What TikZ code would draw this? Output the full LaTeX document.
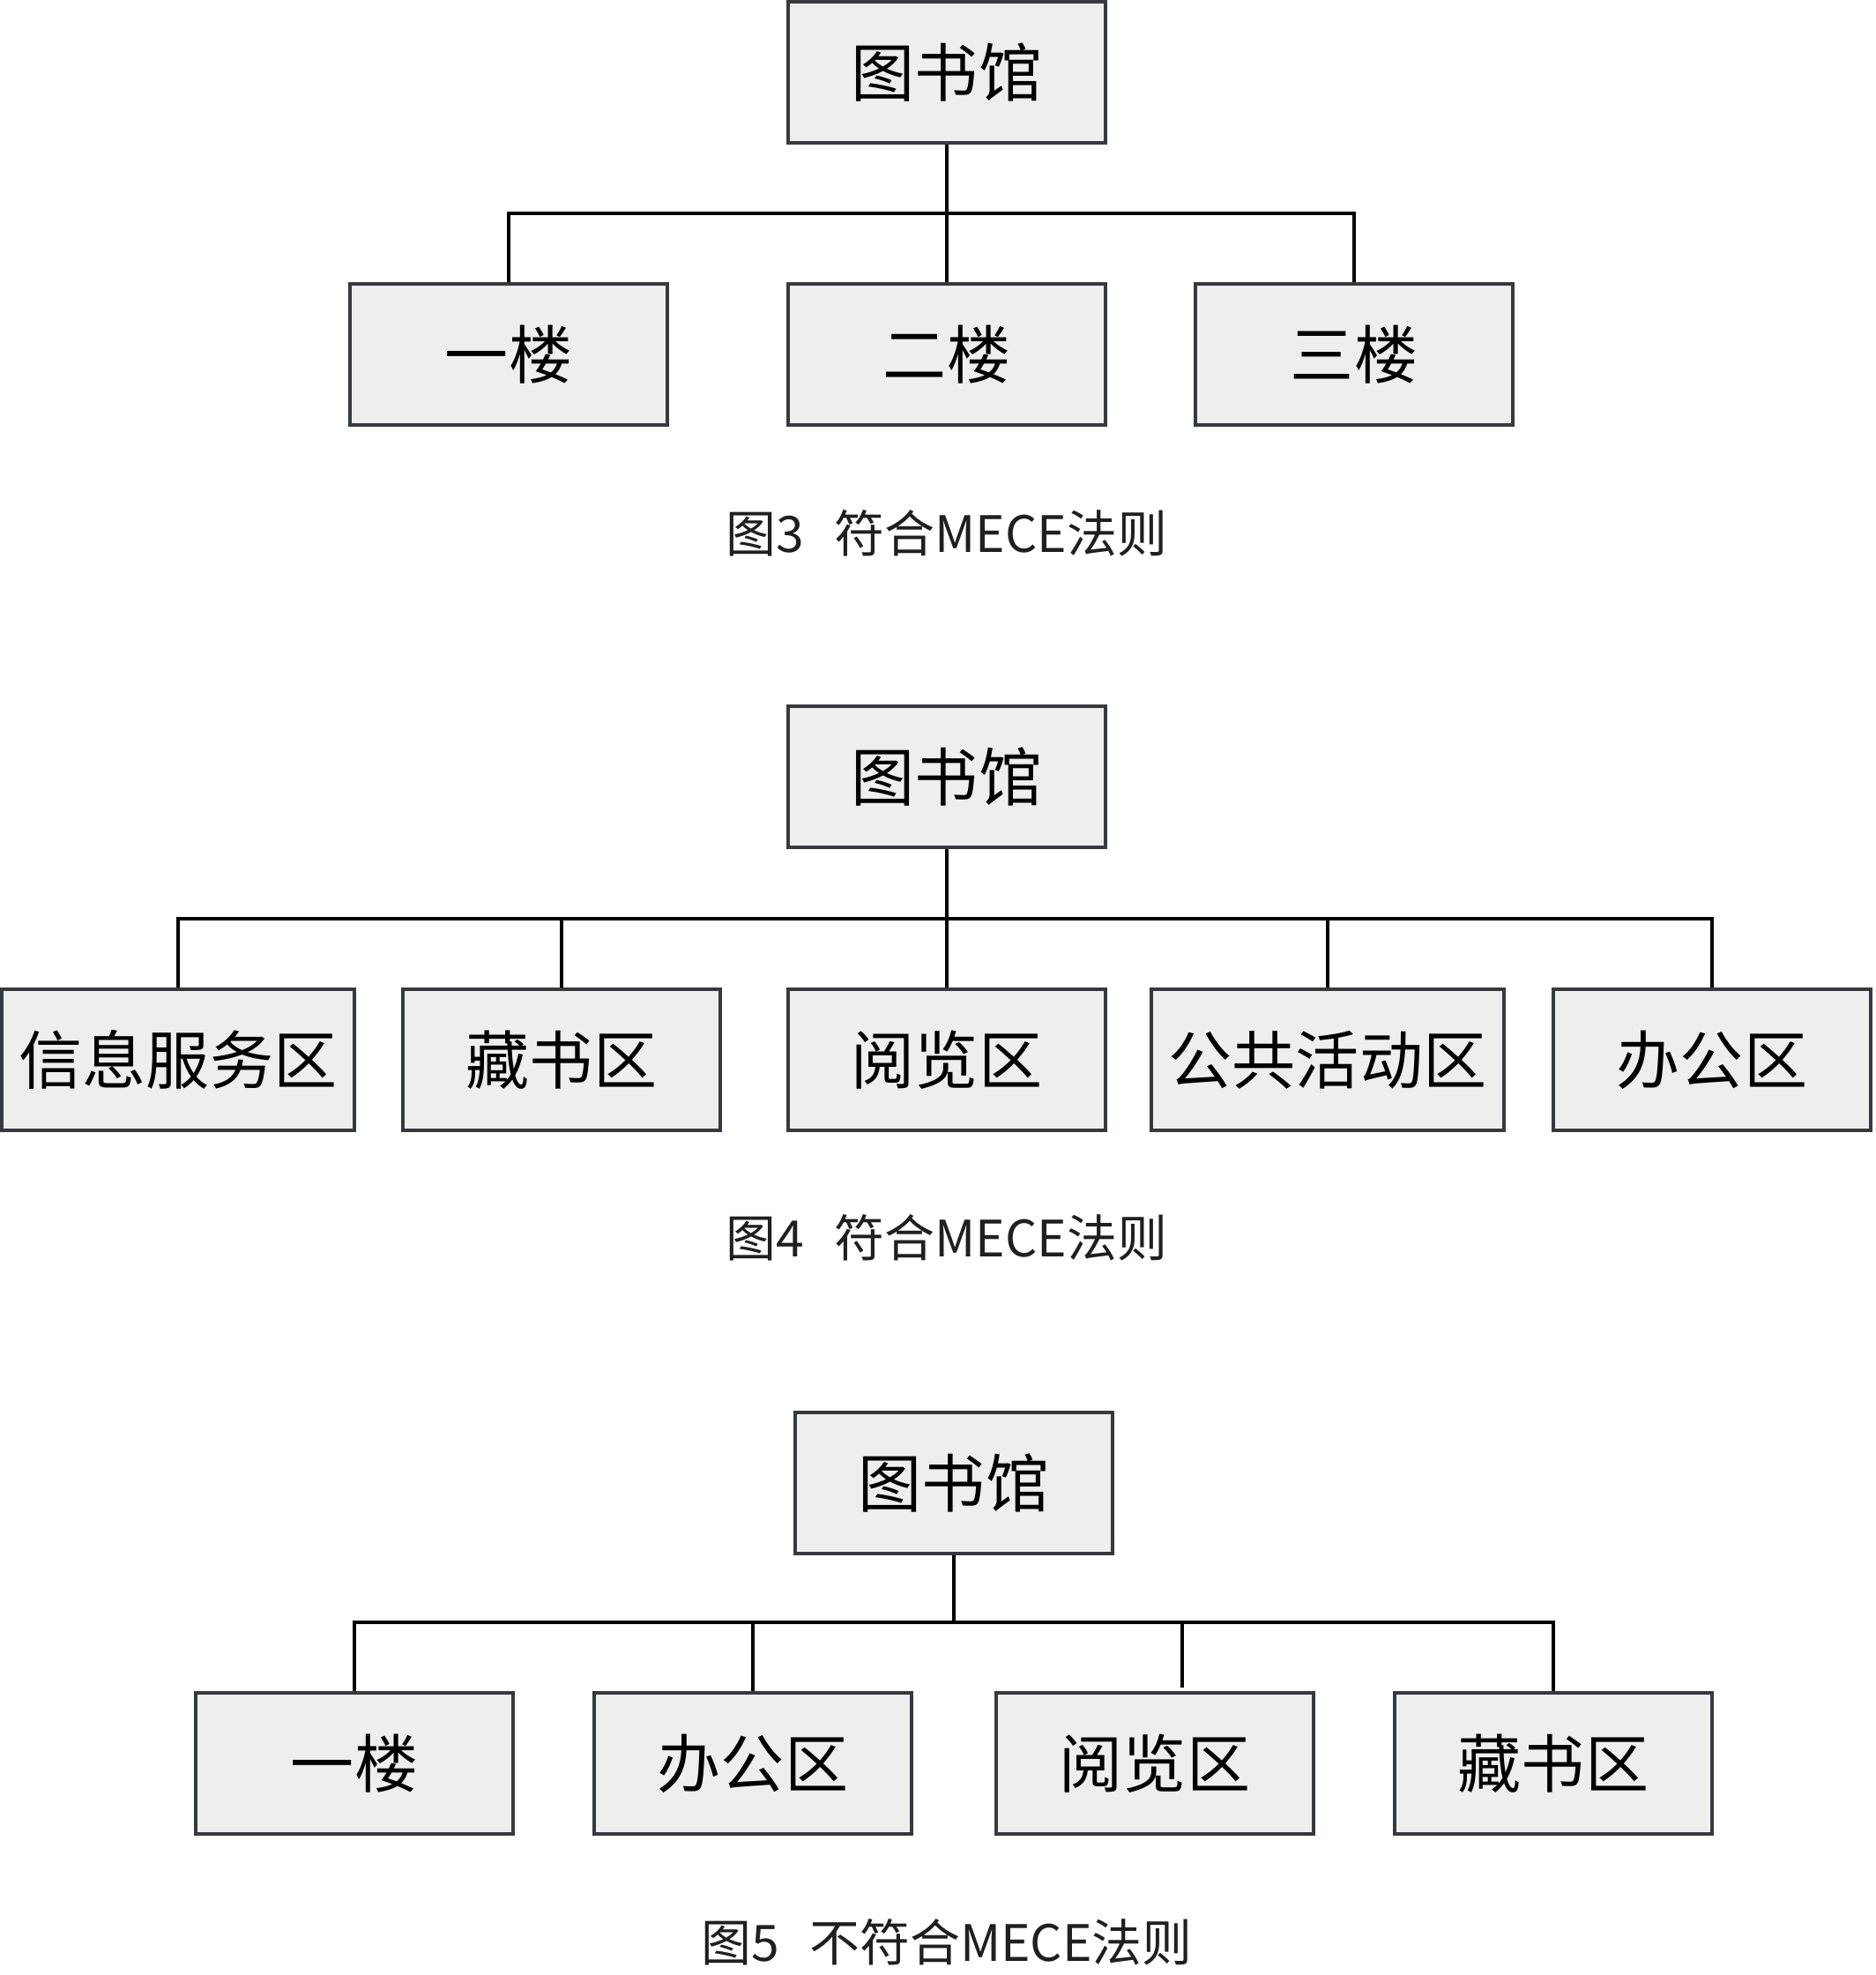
\documentclass[tikz,border=0pt]{standalone}
\usepackage{fontspec}
\setmainfont{Noto Sans CJK SC}
\usepackage{tikz}

\definecolor{boxfill}{HTML}{EEEEEE}
\definecolor{boxline}{HTML}{36393D}

\begin{document}
\begin{tikzpicture}[
    box/.style={draw=boxline, fill=boxfill, line width=0.9pt, minimum width=3.6cm,
        minimum height=1.6cm, inner sep=0pt, font=\fontsize{20.5pt}{24pt}\selectfont},
    wide/.style={box, minimum width=4.0cm},
    wire/.style={line width=1pt, black},
    caption/.style={font=\fontsize{16.2pt}{19pt}\selectfont, text=black!88}]
    \useasboundingbox (0,0) rectangle (21.28,-22.4);

    % 图3
    \node[box] (r1) at (10.74,-0.82) {图书馆};
    \node[box] (a1) at (5.77,-4.02) {一楼};
    \node[box] (a2) at (10.74,-4.02) {二楼};
    \node[box] (a3) at (15.36,-4.02) {三楼};
    \coordinate (bus1) at (10.74,-2.42);
    \draw[wire] (r1.south) -- (bus1);
    \draw[wire] (bus1) -| (a1.north);
    \draw[wire] (bus1) -- (a2.north);
    \draw[wire] (bus1) -| (a3.north);
    \node[caption] (cap1) at (10.74,-6.05) {图3\hspace{0.6em}符合MECE法则};

    % 图4
    \node[box] (r2) at (10.74,-8.81) {图书馆};
    \node[wide] (b1) at (2.02,-12.02) {信息服务区};
    \node[box] (b2) at (6.37,-12.02) {藏书区};
    \node[box] (b3) at (10.74,-12.02) {阅览区};
    \node[wide] (b4) at (15.06,-12.02) {公共活动区};
    \node[box] (b5) at (19.42,-12.02) {办公区};
    \coordinate (bus2) at (10.74,-10.42);
    \draw[wire] (r2.south) -- (bus2);
    \draw[wire] (bus2) -| (b1.north);
    \draw[wire] (bus2) -| (b2.north);
    \draw[wire] (bus2) -- (b3.north);
    \draw[wire] (bus2) -| (b4.north);
    \draw[wire] (bus2) -| (b5.north);
    \node[caption] (cap2) at (10.74,-14.04) {图4\hspace{0.6em}符合MECE法则};

    % 图5
    \node[box] (r3) at (10.82,-16.82) {图书馆};
    \node[box] (c1) at (4.02,-20.00) {一楼};
    \node[box] (c2) at (8.54,-20.00) {办公区};
    \node[box] (c3) at (13.10,-20.00) {阅览区};
    \node[box] (c4) at (17.62,-20.00) {藏书区};
    \coordinate (bus3) at (10.82,-18.40);
    \draw[wire] (r3.south) -- (bus3);
    \draw[wire] (bus3) -| (c1.north);
    \draw[wire] (bus3) -| (c2.north);
    \draw[wire] (bus3) -| ([xshift=0.31cm,yshift=0.04cm]c3.north);
    \draw[wire] (bus3) -| (c4.north);
    \node[caption] (cap3) at (10.74,-22.03) {图5\hspace{0.6em}不符合MECE法则};
\end{tikzpicture}
\end{document}
